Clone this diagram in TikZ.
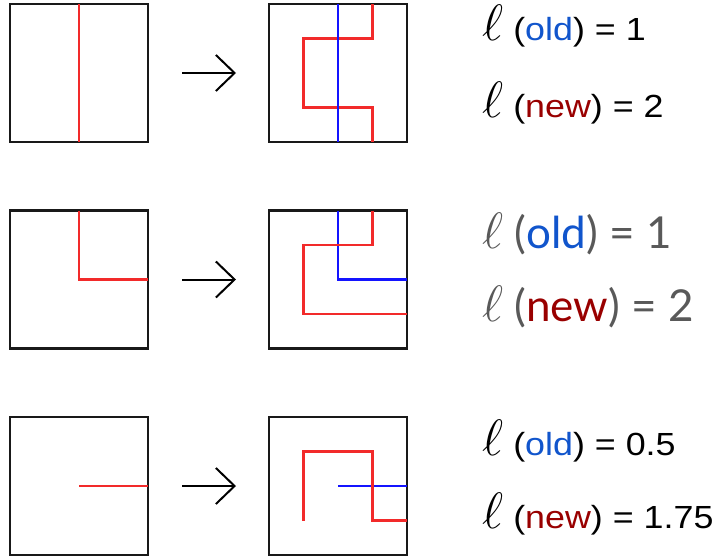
\documentclass[tikz,border=0pt]{standalone}
\usepackage{fontspec}
\setmainfont{Liberation Sans}[FakeStretch=1.12]
\newfontfamily\latofont{Lato}
\usepackage{graphicx}
\usetikzlibrary{arrows.meta}

\definecolor{oldblue}{HTML}{1155CC}
\definecolor{newred}{HTML}{990000}
\definecolor{linered}{HTML}{F22A2A}
\definecolor{lineblue}{HTML}{1414FF}
\definecolor{textgrey}{HTML}{595959}

\newcommand{\ellsym}{{\fontsize{22}{26}\selectfont\scalebox{1.85}{$\ell$}}}

\tikzset{
  cellbox/.style={draw=black!90, line width=1.9pt, minimum size=103.5pt,
    inner sep=0pt, outer sep=0pt},
  turnarrow/.style={line width=1.5pt, -{Straight Barb[length=14pt,width=27pt]},
    shorten <=25.5pt, shorten >=24.75pt},
  redline/.style={draw=linered, line width=1.9pt},
  blueline/.style={draw=lineblue, line width=1.9pt},
  lentext/.style={anchor=base west, inner sep=0pt, font=\fontsize{24}{28}\selectfont},
  bigtext/.style={anchor=base west, inner sep=0pt, text=textgrey,
    font=\latofont\fontsize{33}{38}\selectfont}
}

\begin{document}
\begin{tikzpicture}[x=0.75pt, y=-0.75pt]
    \useasboundingbox (0,0) rectangle (723,557);

    % Grid parameters
    \def\cell{25.875pt}

    % Boxes and arrows
    \foreach \r/\y in {1/73, 2/279.5, 3/486} {
        \node[cellbox] (a\r) at (79,\y) {};
        \node[cellbox] (b\r) at (338,\y) {};
        \draw[turnarrow] (a\r) -- (b\r);
    }

    % Row 1: straight line
    \begin{scope}[shift={(a1.north west)}, x=\cell, y=-\cell]
        \draw[redline] (2,0) -- (2,4);
    \end{scope}
    \begin{scope}[shift={(b1.north west)}, x=\cell, y=-\cell]
        \draw[redline] (3,0) -- (3,1) -- (1,1) -- (1,3) -- (3,3) -- (3,4);
        \draw[blueline] (2,0) -- (2,4);
    \end{scope}

    % Row 2: corner
    \begin{scope}[shift={(a2.north west)}, x=\cell, y=-\cell]
        \draw[redline] (2,0) -- (2,2) -- (4,2);
    \end{scope}
    \begin{scope}[shift={(b2.north west)}, x=\cell, y=-\cell]
        \draw[blueline] (2,0) -- (2,2) -- (4,2);
        \draw[redline] (3,0) -- (3,1) -- (1,1) -- (1,3) -- (4,3);
    \end{scope}

    % Row 3: half line
    \begin{scope}[shift={(a3.north west)}, x=\cell, y=-\cell]
        \draw[redline] (2,2) -- (4,2);
    \end{scope}
    \begin{scope}[shift={(b3.north west)}, x=\cell, y=-\cell]
        \draw[blueline] (2,2) -- (4,2);
        \draw[redline] (1,3) -- (1,1) -- (3,1) -- (3,3) -- (4,3);
    \end{scope}

    % Lengths
    \node[lentext] (old1) at (482,40) {\ellsym\ ({\color{oldblue}old}) = 1};
    \node[lentext] (new1) at (482,117) {\ellsym\ ({\color{newred}new}) = 2};
    \node[bigtext] (old2) at (482,248) {\ellsym\ ({\color{oldblue}old}) = 1};
    \node[bigtext] (new2) at (482,321) {\ellsym\ ({\color{newred}new}) = 2};
    \node[lentext] (old3) at (482,455) {\ellsym\ ({\color{oldblue}old}) = 0.5};
    \node[lentext] (new3) at (482,528) {\ellsym\ ({\color{newred}new}) = 1.75};

\end{tikzpicture}
\end{document}
